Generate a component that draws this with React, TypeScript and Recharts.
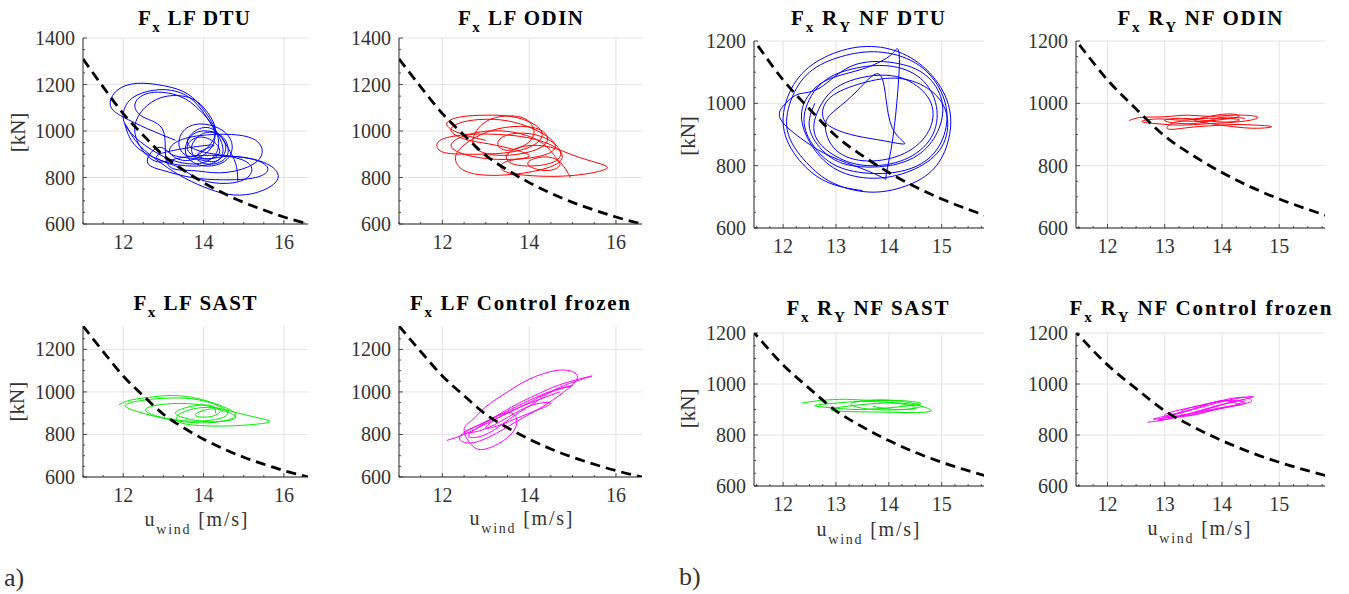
import React from 'react';
import { LineChart, Line, XAxis, YAxis, CartesianGrid } from 'recharts';

type Pt = [number, number];

// Steady-state thrust curve (dashed black)
const thrustU = [11.0, 11.5, 12.0, 12.5, 13.0, 13.5, 14.0, 14.5, 15.0, 15.5, 16.0, 16.6];
const thrustF = [1310, 1190, 1075, 982, 895, 832, 778, 732, 693, 660, 630, 600];

// Tick values
const lfXMajor = [12, 14, 16];
const lfXAll = [11, 11.5, 12, 12.5, 13, 13.5, 14, 14.5, 15, 15.5, 16, 16.5];
const nfXMajor = [12, 13, 14, 15];
const nfXAll = [11.5, 11.75, 12, 12.25, 12.5, 12.75, 13, 13.25, 13.5, 13.75, 14, 14.25, 14.5, 14.75, 15, 15.25, 15.5, 15.75];
const yMajorTop = [600, 800, 1000, 1200, 1400];
const yAllTop = [600, 650, 700, 750, 800, 850, 900, 950, 1000, 1050, 1100, 1150, 1200, 1250, 1300, 1350, 1400];
const yMajor = [600, 800, 1000, 1200];
const yAllLow = [600, 650, 700, 750, 800, 850, 900, 950, 1000, 1050, 1100, 1150, 1200, 1250, 1300];
const yAllNf = [600, 650, 700, 750, 800, 850, 900, 950, 1000, 1050, 1100, 1150, 1200];

// a) LF DTU (blue)
const lfDtu: Pt[] = [
  [13.3, 960], [12.6, 1010], [12.0, 1060], [11.68, 1110], [11.85, 1175], [12.35, 1205], [13.0, 1195], [13.6, 1160], [14.05, 1080], [14.35, 980], [14.3, 900], [13.9, 860], [13.3, 870], [12.7, 920], [12.2, 990], [12.0, 1060],
  [12.15, 1130], [12.6, 1170], [13.2, 1175], [13.75, 1130], [14.15, 1040], [14.45, 950], [14.4, 880], [13.9, 850], [13.2, 860], [12.6, 900], [12.2, 960],
  [12.05, 1030], [12.3, 960], [12.8, 880], [13.4, 810], [14.0, 760], [14.6, 728], [15.2, 730], [15.7, 765], [15.85, 815], [15.5, 865], [14.8, 890], [14.0, 895], [13.3, 880], [12.8, 870],
  [12.4, 940], [12.3, 1030], [12.6, 1110], [13.1, 1150], [13.7, 1140], [14.1, 1080], [14.3, 1000], [14.1, 930],
  [13.7, 890], [13.4, 930], [13.5, 1000], [13.9, 1030], [14.4, 1010], [14.7, 950], [14.6, 880], [14.2, 850], [13.8, 860], [13.55, 910], [13.7, 980], [14.1, 1000], [14.5, 970], [14.6, 900], [14.3, 860], [13.9, 870], [13.7, 930], [14.0, 990], [14.4, 980], [14.55, 920], [14.3, 870],
  [13.8, 880], [13.2, 900], [13.3, 950], [13.9, 980], [14.7, 985], [15.3, 960], [15.45, 900], [15.1, 845], [14.4, 820], [13.7, 830], [13.1, 860],
  [13.0, 1000], [12.5, 1060], [12.3, 1120], [12.7, 1165], [13.4, 1150], [13.9, 1090], [14.25, 1010], [14.2, 930], [13.8, 880], [13.3, 885], [12.9, 930],
  [12.6, 870], [13.0, 830], [13.7, 800], [14.5, 790], [15.3, 800], [15.6, 840], [15.2, 880], [14.5, 890],
  [14.0, 880], [13.6, 920], [13.8, 970], [14.2, 960], [14.4, 910], [14.1, 880], [13.9, 910], [14.2, 940],
  [12.9, 900], [13.3, 850], [13.8, 800], [14.4, 775], [15.0, 790], [15.2, 840], [14.9, 880], [14.3, 900], [13.8, 920], [13.6, 960], [13.9, 1010], [14.3, 1000], [14.6, 930], [14.8, 860], [14.85, 800], [14.85, 782],
];

// a) LF ODIN (red)
const lfOdin: Pt[] = [
  [13.0, 960], [12.4, 990], [12.1, 1030], [12.4, 1060], [13.0, 1068], [13.6, 1062], [14.1, 1030], [14.3, 980], [14.0, 930], [13.4, 905], [12.7, 900], [12.1, 905], [11.88, 930], [12.0, 965], [12.6, 985], [13.3, 985], [14.0, 970], [14.6, 930], [14.75, 880], [14.4, 840], [13.7, 815], [13.0, 810], [12.5, 830], [12.3, 880], [12.5, 940], [13.1, 1000], [13.8, 1020], [14.3, 1000], [14.4, 950], [14.0, 910], [13.4, 895], [12.9, 910], [12.7, 960], [13.0, 1040], [13.6, 1065], [14.0, 1040], [14.1, 980], [13.8, 930], [13.4, 920], [13.3, 960], [13.7, 990], [14.3, 975], [14.7, 920], [14.6, 870], [14.1, 850], [13.6, 860], [13.5, 900], [13.9, 935], [14.5, 930], [15.1, 890], [15.7, 855], [15.75, 835], [15.3, 815], [14.6, 805], [13.9, 810], [13.4, 830], [13.5, 870], [14.0, 895],
  [13.2, 940], [12.6, 960], [12.2, 1000], [12.5, 1040], [13.2, 1050], [13.8, 1030], [14.3, 990], [14.6, 940], [14.4, 900], [13.8, 880], [13.1, 880], [12.5, 900], [12.2, 940],
  [12.6, 985], [13.4, 1000], [14.2, 960], [14.6, 890], [14.7, 850], [14.4, 830], [14.0, 850], [14.1, 880], [14.6, 880], [14.95, 800],
];

// a) LF SAST (green)
const lfSast: Pt[] = [
  [11.9, 940], [12.2, 962], [12.8, 978], [13.4, 982], [14.0, 962], [14.5, 930], [14.8, 895], [14.6, 868], [14.1, 855], [13.5, 860], [12.9, 880], [12.4, 905], [12.05, 935], [12.4, 958], [13.0, 970], [13.7, 968], [14.3, 940], [14.6, 905], [14.4, 875], [13.8, 862], [13.2, 872], [12.7, 895], [12.6, 925], [13.2, 945], [13.9, 940], [14.5, 918], [15.2, 885], [15.65, 862], [15.3, 848], [14.6, 840], [13.9, 842], [13.4, 858], [13.4, 895], [13.9, 925], [14.4, 918], [14.2, 885], [13.8, 890], [14.1, 918], [14.5, 912], [14.8, 878], [14.3, 860], [13.7, 870], [13.3, 900], [13.7, 932], [14.2, 935], [14.3, 900],
];

// a) LF Control frozen (magenta)
const lfCtrl: Pt[] = [
  [12.1, 772], [12.5, 800], [13.0, 850], [13.5, 900], [14.0, 950], [14.5, 1000], [15.0, 1030], [14.6, 1010], [14.0, 960], [13.4, 900], [12.8, 840], [12.4, 790], [12.6, 760], [13.1, 790], [13.7, 860], [14.3, 930], [14.8, 1000], [15.1, 1060], [15.0, 1095], [14.6, 1100], [14.0, 1060], [13.5, 1000], [13.0, 930], [12.7, 870], [12.5, 820], [12.7, 745], [13.0, 732], [13.4, 770], [13.7, 840], [13.6, 900], [13.2, 880], [12.8, 830], [12.6, 790], [13.0, 800], [13.6, 880], [14.2, 960], [14.8, 1030], [15.45, 1075], [14.8, 1040], [14.2, 990], [13.6, 930], [13.0, 860], [12.5, 810], [12.9, 820], [13.5, 880], [14.1, 940], [14.5, 945], [14.0, 900], [13.4, 850], [13.0, 830], [13.3, 880], [13.8, 930], [14.3, 970], [14.7, 1000],
];

// b) NF DTU (blue)
const nfDtu: Pt[] = [
  [13.5, 720], [12.8, 750], [12.25, 830], [12.0, 940], [12.2, 1060], [12.7, 1140], [13.4, 1180], [14.1, 1170], [14.7, 1110], [15.1, 1010], [15.15, 900], [14.9, 800], [14.4, 740], [13.7, 715],
  [13.0, 740], [12.5, 800], [12.1, 900], [12.15, 1010], [12.5, 1100], [13.1, 1150], [13.8, 1165], [14.5, 1130], [14.95, 1050], [15.1, 950], [14.9, 850], [14.4, 790], [13.7, 775], [13.0, 800], [12.55, 870],
  [12.4, 960], [12.7, 1060], [13.3, 1110], [14.0, 1120], [14.6, 1080], [14.9, 990], [14.8, 890], [14.3, 820], [13.6, 800], [13.0, 830], [12.6, 900],
  [12.7, 990], [13.1, 1060], [13.8, 1090], [14.4, 1070], [14.8, 1000], [14.75, 910], [14.3, 840], [13.6, 815], [13.0, 850], [12.8, 930],
  [13.0, 980], [13.4, 1040], [13.8, 1095], [13.95, 1010], [14.1, 910], [14.3, 870], [13.9, 880], [13.4, 895], [12.95, 920], [12.75, 960],
  [12.9, 1020], [13.5, 1065], [14.2, 1080], [14.8, 1040], [15.1, 960], [15.0, 860], [14.5, 790], [13.8, 760], [13.1, 780], [12.6, 850], [12.35, 950], [12.5, 1030],
  [12.9, 1080], [13.5, 1110], [14.0, 1150], [14.15, 1175], [14.2, 1140], [14.15, 1000], [14.05, 860], [13.95, 770], [13.9, 760], [13.5, 790], [12.9, 830], [12.4, 880], [11.95, 950], [12.05, 1000], [12.3, 1030],
  [12.7, 1050], [13.3, 1120], [14.1, 1130], [14.7, 1090], [15.0, 1010], [14.95, 920], [14.6, 840], [14.0, 800], [13.3, 800], [12.8, 840], [12.5, 920], [12.6, 1000],
];

// b) NF ODIN (red)
const nfOdin: Pt[] = [
  [12.38, 945], [12.6, 955], [13.0, 957], [13.4, 962], [13.8, 958], [14.2, 962], [14.6, 958], [14.5, 946], [14.1, 938], [13.7, 934], [13.3, 930], [12.9, 934], [12.6, 942], [12.9, 950], [13.3, 946], [13.7, 955], [14.1, 966], [14.3, 958], [14.0, 948], [13.6, 942], [13.2, 940], [13.05, 918], [13.4, 922], [13.8, 928], [14.2, 932], [14.6, 930], [14.87, 925], [14.6, 920], [14.2, 925], [13.8, 935], [13.5, 948], [13.9, 952], [14.3, 948], [14.1, 940], [13.7, 945], [13.3, 952], [13.0, 945], [13.3, 935], [13.7, 940], [14.0, 955], [14.4, 952],
];

// b) NF SAST (green)
const nfSast: Pt[] = [
  [12.35, 925], [12.7, 935], [13.2, 940], [13.7, 935], [14.2, 935], [14.6, 925], [14.4, 915], [13.9, 905], [13.4, 900], [13.0, 905], [12.6, 915], [13.0, 925], [13.5, 932], [14.0, 928], [14.5, 918], [14.8, 895], [14.4, 888], [13.8, 890], [13.2, 892], [12.9, 900], [13.3, 915], [13.9, 925], [14.3, 920], [14.5, 905], [14.0, 898], [13.5, 905], [13.3, 925], [13.8, 938], [14.3, 930], [14.6, 912], [14.2, 900], [13.7, 912],
];

// b) NF Control frozen (magenta)
const nfCtrl: Pt[] = [
  [12.7, 850], [13.0, 860], [13.4, 880], [13.8, 905], [14.2, 930], [14.55, 950], [14.3, 945], [13.9, 925], [13.5, 900], [13.1, 875], [12.9, 858], [13.2, 870], [13.6, 895], [14.0, 920], [14.4, 938], [14.2, 915], [13.8, 895], [13.4, 875], [13.3, 895], [13.7, 920], [14.1, 935], [14.4, 925], [14.0, 905], [13.6, 885], [13.2, 870],
  [13.0, 880], [13.4, 905], [13.9, 930], [14.35, 948], [14.5, 930], [14.1, 912], [13.6, 890], [13.1, 870], [12.8, 862], [13.2, 885], [13.6, 910], [14.0, 935], [14.3, 920],
];

const SERIF = 'Liberation Serif';
const AXIS_COLOR = '#262626';
const Y_MARGIN = 8;
const X_MARGIN = 11;
const YW = 70;
const XH = 40;
const MT = 10;
const MR = 10;

const toRows = (pts: Pt[]) => pts.map(([u, f]) => ({ u, f }));
const thrustRows = thrustU.map((u, i) => ({ u, f: thrustF[i] }));

function makeYTick(majors: number[]) {
  return (props: any) => {
    const { x, y, payload } = props;
    const v = payload.value;
    const major = majors.includes(v);
    const ax = x + Y_MARGIN;
    return (
      <g>
        <line x1={ax} x2={ax + (major ? 4 : 2)} y1={y} y2={y} stroke={AXIS_COLOR} strokeWidth={0.8} />
        {major && (
          <text x={x} y={y} dy="0.35em" textAnchor="end" style={{ fontFamily: SERIF }} fontSize={20} fill="#333">
            {v}
          </text>
        )}
      </g>
    );
  };
}

function makeXTick(majors: number[]) {
  return (props: any) => {
    const { x, y, payload } = props;
    const v = payload.value;
    const major = majors.includes(v);
    const ay = y - X_MARGIN;
    return (
      <g>
        <line x1={x} x2={x} y1={ay} y2={ay - (major ? 4 : 2)} stroke={AXIS_COLOR} strokeWidth={0.8} />
        {major && (
          <text x={x} y={y} dy="0.71em" textAnchor="middle" style={{ fontFamily: SERIF }} fontSize={20} fill="#333">
            {v}
          </text>
        )}
      </g>
    );
  };
}

type PanelProps = {
  pts: Pt[];
  color: string;
  left: number;
  top: number;
  w: number;
  h: number;
  xDomain: [number, number];
  yDomain: [number, number];
  xMajor: number[];
  xAll: number[];
  yMajorT: number[];
  yAll: number[];
};

function Panel(p: PanelProps) {
  const width = p.w + YW + MR;
  const height = p.h + MT + XH;
  return (
    <div style={{ position: 'absolute', left: p.left - YW, top: p.top - MT, width, height }}>
      <LineChart width={width} height={height} margin={{ top: MT, right: MR, bottom: 0, left: 0 }}>
        <CartesianGrid stroke="#e4e4e4" strokeWidth={1} horizontalValues={p.yMajorT} verticalValues={p.xMajor} />
        <XAxis
          type="number"
          dataKey="u"
          domain={p.xDomain}
          allowDataOverflow
          ticks={p.xAll}
          interval={0}
          height={XH}
          tickSize={0}
          tickMargin={X_MARGIN}
          tickLine={false}
          axisLine={{ stroke: AXIS_COLOR, strokeWidth: 1 }}
          tick={makeXTick(p.xMajor)}
        />
        <YAxis
          type="number"
          dataKey="f"
          domain={p.yDomain}
          allowDataOverflow
          ticks={p.yAll}
          interval={0}
          width={YW}
          tickSize={0}
          tickMargin={Y_MARGIN}
          tickLine={false}
          axisLine={{ stroke: AXIS_COLOR, strokeWidth: 1 }}
          tick={makeYTick(p.yMajorT)}
        />
        <Line
          data={toRows(p.pts)}
          dataKey="f"
          type="natural"
          stroke={p.color}
          strokeWidth={1}
          dot={false}
          activeDot={false}
          isAnimationActive={false}
        />
        <Line
          data={thrustRows}
          dataKey="f"
          type="monotone"
          stroke="#000"
          strokeWidth={2.8}
          strokeDasharray="10 6"
          dot={false}
          activeDot={false}
          isAnimationActive={false}
        />
      </LineChart>
    </div>
  );
}

function Title({ cx, y, w, nf, name }: { cx: number; y: number; w: number; nf: boolean; name: string }) {
  return (
    <text x={cx} y={y} textAnchor="middle" style={{ fontFamily: SERIF, fontWeight: 'bold' }} fontSize={21} fill="#000" textLength={w} lengthAdjust="spacing">
      F
      <tspan dy={7} fontSize={15}>x</tspan>
      {nf ? (
        <>
          <tspan dy={-7}> R</tspan>
          <tspan dy={7} fontSize={15}>Y</tspan>
          <tspan dy={-7}>{' NF ' + name}</tspan>
        </>
      ) : (
        <tspan dy={-7}>{' LF ' + name}</tspan>
      )}
    </text>
  );
}

function YLabel({ cx, cy }: { cx: number; cy: number }) {
  return (
    <text x={cx} y={cy} transform={`rotate(-90, ${cx}, ${cy})`} textAnchor="middle" dominantBaseline="central" style={{ fontFamily: SERIF }} fontSize={21} fill="#333">
      [kN]
    </text>
  );
}

function XLabel({ cx, y }: { cx: number; y: number }) {
  return (
    <text x={cx} y={y} textAnchor="middle" style={{ fontFamily: SERIF }} fontSize={20} fill="#333" textLength={103} lengthAdjust="spacing">
      u
      <tspan dy={8} fontSize={14}>wind</tspan>
      <tspan dy={-8}> [m/s]</tspan>
    </text>
  );
}

export default function App() {
  const lfX: [number, number] = [11, 16.6];
  const nfX: [number, number] = [11.45, 15.8];
  return (
    <div style={{ position: 'absolute', left: 0, top: 0, width: 1349, height: 594, background: '#fff', overflow: 'hidden', fontFamily: SERIF }}>
      <Panel pts={lfDtu} color="#0000ff" left={83} top={38} w={225} h={186} xDomain={lfX} yDomain={[600, 1400]} xMajor={lfXMajor} xAll={lfXAll} yMajorT={yMajorTop} yAll={yAllTop} />
      <Panel pts={lfOdin} color="#ff0000" left={399} top={38} w={243} h={186} xDomain={lfX} yDomain={[600, 1400]} xMajor={lfXMajor} xAll={lfXAll} yMajorT={yMajorTop} yAll={yAllTop} />
      <Panel pts={lfSast} color="#00ee00" left={83} top={326} w={225} h={151} xDomain={lfX} yDomain={[600, 1310]} xMajor={lfXMajor} xAll={lfXAll} yMajorT={yMajor} yAll={yAllLow} />
      <Panel pts={lfCtrl} color="#ff00ff" left={399} top={326} w={243} h={151} xDomain={lfX} yDomain={[600, 1310]} xMajor={lfXMajor} xAll={lfXAll} yMajorT={yMajor} yAll={yAllLow} />
      <Panel pts={nfDtu} color="#0000ff" left={754} top={41} w={230} h={187} xDomain={nfX} yDomain={[600, 1200]} xMajor={nfXMajor} xAll={nfXAll} yMajorT={yMajor} yAll={yAllNf} />
      <Panel pts={nfOdin} color="#ff0000" left={1076} top={41} w={249} h={187} xDomain={nfX} yDomain={[600, 1200]} xMajor={nfXMajor} xAll={nfXAll} yMajorT={yMajor} yAll={yAllNf} />
      <Panel pts={nfSast} color="#00ee00" left={754} top={333} w={230} h={153} xDomain={nfX} yDomain={[600, 1200]} xMajor={nfXMajor} xAll={nfXAll} yMajorT={yMajor} yAll={yAllNf} />
      <Panel pts={nfCtrl} color="#ff00ff" left={1076} top={333} w={249} h={153} xDomain={nfX} yDomain={[600, 1200]} xMajor={nfXMajor} xAll={nfXAll} yMajorT={yMajor} yAll={yAllNf} />
      <svg width={1349} height={594} style={{ position: 'absolute', left: 0, top: 0, pointerEvents: 'none' }}>
        <Title cx={194} y={25} w={112} nf={false} name="DTU" />
        <Title cx={520.5} y={25} w={125} nf={false} name="ODIN" />
        <Title cx={868} y={25} w={154} nf={true} name="DTU" />
        <Title cx={1200} y={25} w={165} nf={true} name="ODIN" />
        <Title cx={195} y={310} w={123} nf={false} name="SAST" />
        <Title cx={520} y={309.5} w={220} nf={false} name="Control frozen" />
        <Title cx={867.5} y={315} w={162} nf={true} name="SAST" />
        <Title cx={1200.5} y={315} w={262} nf={true} name="Control frozen" />
        <YLabel cx={17.5} cy={132.5} />
        <YLabel cx={688} cy={136} />
        <YLabel cx={17.5} cy={401.7} />
        <YLabel cx={688} cy={408.3} />
        <XLabel cx={196} y={526} />
        <XLabel cx={521} y={525} />
        <XLabel cx={868} y={536} />
        <XLabel cx={1199} y={535} />
        <text x={4} y={586} style={{ fontFamily: SERIF }} fontSize={26} fill="#333">a)</text>
        <text x={679} y={585} style={{ fontFamily: SERIF }} fontSize={26} fill="#333">b)</text>
      </svg>
    </div>
  );
}
